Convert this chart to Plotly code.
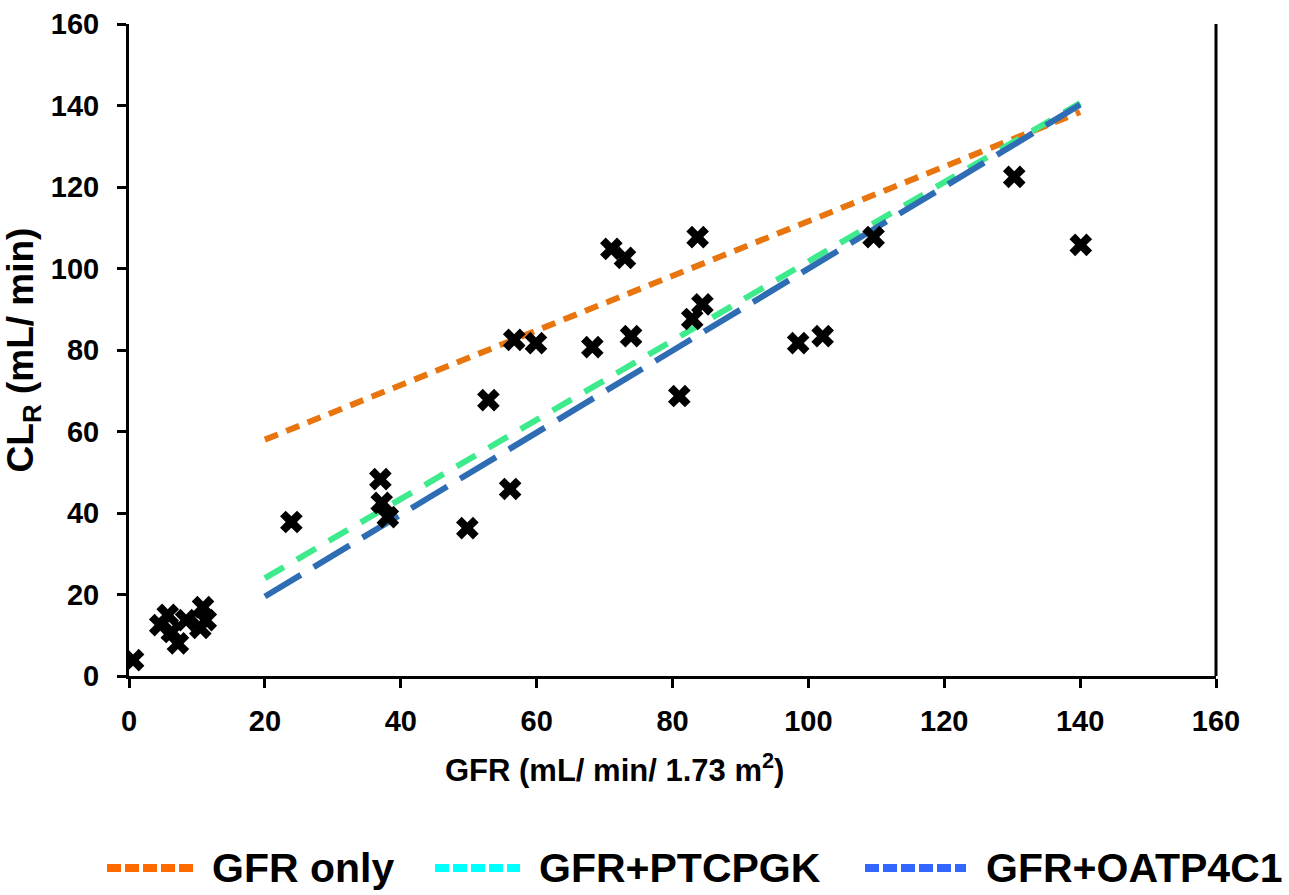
import plotly.graph_objects as go

# Observed data
gfr = [0.6, 4.6, 5.7, 6.3, 7.2, 8.4, 10.5, 10.9, 11.3,
       23.9, 37.0, 37.2, 38.1, 49.8, 52.9, 56.1, 56.7, 59.9, 68.2,
       71.0, 73.0, 73.9, 81.0, 82.9, 83.7, 84.4, 98.5, 102.1, 109.6,
       130.3, 140.1]
clr = [3.9, 12.5, 15.0, 10.8, 8.0, 13.7, 11.8, 16.9, 13.7,
       37.8, 48.3, 42.5, 39.0, 36.3, 67.7, 45.9, 82.5, 81.7, 80.7,
       104.8, 102.6, 83.4, 68.7, 87.6, 107.7, 91.2, 81.7, 83.4, 107.7,
       122.5, 105.8]

# Model lines
line_x = [20, 140]
gfr_only = [58.0, 138.4]
gfr_ptcpgk = [24.0, 140.6]
gfr_oatp4c1 = [19.5, 140.2]

series_names = ["GFR only", "GFR+PTCPGK", "GFR+OATP4C1"]
line_colors = ["#E8750E", "#3DEB8C", "#2E6DB4"]
legend_colors = ["#FF6A00", "#00FFFF", "#3366FF"]
dashes = ["14px,9px", "22px,15px", "42px,15px"]

FONT = "Liberation Sans, Arial, sans-serif"

# layout geometry (pixels)
W, H = 1289, 895
L, R, T, B = 129, 1216, 24, 676
PW, PH = R - L, B - T


def px_x(p):
    return (p - L) / PW


def px_y(p):
    return (B - p) / PH


fig = go.Figure()

for ys, col, dash in zip([gfr_only, gfr_ptcpgk, gfr_oatp4c1], line_colors, dashes):
    fig.add_trace(go.Scatter(x=line_x, y=ys, mode="lines",
                             line=dict(color=col, width=6, dash=dash),
                             showlegend=False, hoverinfo="skip"))

fig.add_trace(go.Scatter(x=gfr, y=clr, mode="markers",
                         marker=dict(symbol="x", size=20, color="black"),
                         showlegend=False))

shapes = [dict(type="line", xref="paper", yref="paper", x0=1, x1=1, y0=0, y1=1,
               line=dict(color="black", width=3))]
annotations = []

# manual legend at the bottom
leg_y = px_y(868)
sym_ranges = [(107, 193), (435, 520), (865, 966)]
text_x = [210, 537, 984]
for name, col, (a, b), tx in zip(series_names, legend_colors, sym_ranges, text_x):
    shapes.append(dict(type="line", xref="paper", yref="paper",
                       x0=px_x(a), x1=px_x(b), y0=leg_y, y1=leg_y,
                       line=dict(color=col, width=8, dash="14px,4px")))
    annotations.append(dict(text=f"<b>{name}</b>", xref="paper", yref="paper",
                            x=px_x(tx), y=leg_y, xanchor="left", yanchor="middle",
                            showarrow=False, font=dict(size=41, family=FONT, color="black")))

# x-axis title (offset left as in the reference)
annotations.append(dict(text="<b>GFR (mL/ min/ 1.73 m<sup>2</sup>)</b>", xref="paper", yref="paper",
                        x=px_x(614), y=px_y(768), xanchor="center", yanchor="middle",
                        showarrow=False, font=dict(size=31, family=FONT, color="black")))

fig.update_layout(
    width=W, height=H,
    margin=dict(l=L, r=W - R, t=T, b=H - B, autoexpand=False),
    paper_bgcolor="white", plot_bgcolor="white",
    font=dict(family=FONT, color="black"),
    showlegend=False,
    shapes=shapes,
    annotations=annotations,
)

fig.update_xaxes(range=[0, 160], tickvals=list(range(0, 161, 20)),
                 showgrid=False, zeroline=False, showline=True, linecolor="black", linewidth=3,
                 ticks="outside", ticklen=9, tickwidth=3, tickcolor="black",
                 ticklabelstandoff=8,
                 tickfont=dict(size=29, family=FONT, weight="bold"))
fig.update_yaxes(range=[0, 160], tickvals=list(range(0, 161, 20)),
                 showgrid=False, zeroline=False, showline=True, linecolor="black", linewidth=3,
                 ticks="outside", ticklen=9, tickwidth=3, tickcolor="black",
                 ticklabelstandoff=12,
                 tickfont=dict(size=29, family=FONT, weight="bold"),
                 title=dict(text="CL<sub>R</sub> (mL/ min)",
                            font=dict(size=37, family=FONT, weight="bold"), standoff=10))

fig.write_html("out.html")
